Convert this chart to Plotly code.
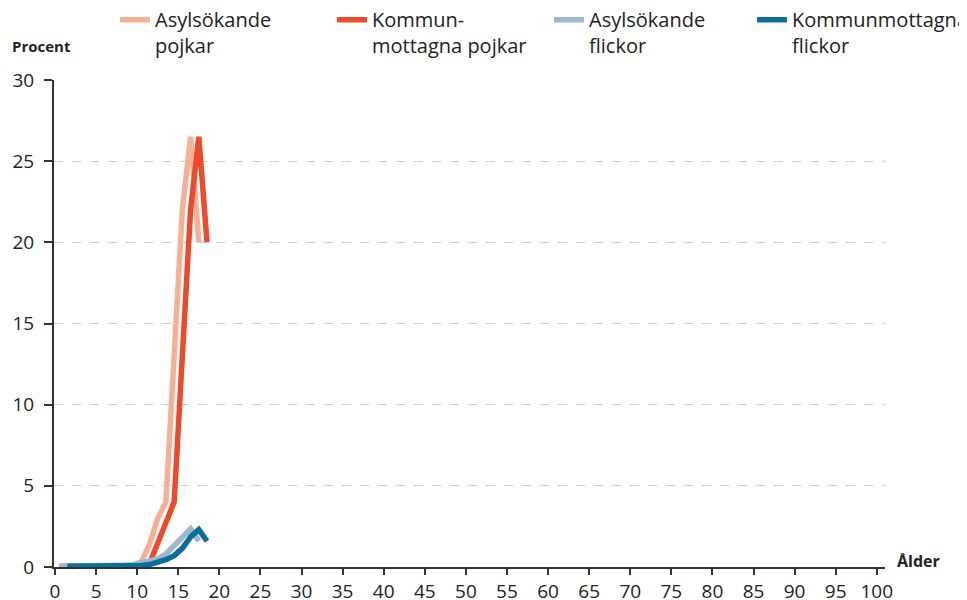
import plotly.graph_objects as go

# Ages (years); asylum seekers 0-17, municipality-received 1-18
ages_asyl = list(range(0, 18))
ages_komm = list(range(1, 19))

asyl_pojkar = [0.05, 0.05, 0.05, 0.05, 0.05, 0.05, 0.05, 0.05, 0.08, 0.12, 0.3, 1.4, 3.0, 4.0, 13.0, 22.0, 26.5, 20.0]
komm_pojkar = [0.02, 0.02, 0.02, 0.02, 0.02, 0.02, 0.02, 0.03, 0.05, 0.08, 0.2, 1.4, 2.8, 4.0, 13.0, 22.0, 26.5, 20.0]
asyl_flickor = [0.05, 0.05, 0.05, 0.05, 0.05, 0.05, 0.05, 0.05, 0.1, 0.15, 0.25, 0.35, 0.5, 0.8, 1.3, 1.9, 2.35, 1.6]
komm_flickor = [0.05, 0.05, 0.05, 0.05, 0.05, 0.05, 0.05, 0.05, 0.05, 0.1, 0.15, 0.3, 0.45, 0.7, 1.15, 1.85, 2.3, 1.6]

names = ["Asylsökande<br>pojkar", "Kommun-<br>mottagna pojkar", "Asylsökande<br>flickor", "Kommunmottagna<br>flickor"]
colors = ["#F5B095", "#EE4A2A", "#9FB6D5", "#0A7099"]
legend_ids = ["legend", "legend", "legend", "legend2"]

x_tick_vals = list(range(0, 101, 5))
y_tick_vals = list(range(0, 31, 5))

font_family = "Open Sans"

fig = go.Figure()
series = [
    (ages_asyl, asyl_pojkar),
    (ages_komm, komm_pojkar),
    (ages_asyl, asyl_flickor),
    (ages_komm, komm_flickor),
]
for (ages, vals), name, col, lg in zip(series, names, colors, legend_ids):
    fig.add_trace(go.Scatter(
        x=[a + 0.5 for a in ages], y=vals, mode="lines", name=name,
        line=dict(color=col, width=5.5), legend=lg,
        hoverinfo="skip",
    ))

legend_common = dict(
    orientation="h", xanchor="left", xref="container",
    y=1.164, yanchor="top", yref="paper",
    entrywidthmode="pixels",
    valign="top", font=dict(size=20, color="#222222"),
    itemwidth=30, tracegroupgap=0, bgcolor="rgba(0,0,0,0)",
)

fig.update_layout(
    width=959, height=592,
    margin=dict(l=46, r=82, t=72, b=33, autoexpand=False),
    paper_bgcolor="white", plot_bgcolor="white",
    font=dict(family=font_family, size=19, color="#222222"),
    showlegend=True,
    legend=dict(x=0.1116, entrywidth=172, **legend_common),
    legend2=dict(x=0.7758, entrywidth=175, **legend_common),
    xaxis=dict(
        range=[-0.12, 101.0], tickmode="array", tickvals=x_tick_vals,
        showgrid=False, zeroline=False,
        showline=True, linecolor="#333333", linewidth=2,
        ticks="outside", ticklen=6, tickwidth=1.5, tickcolor="#333333",
        tickfont=dict(size=19, color="#222222"),
    ),
    yaxis=dict(
        range=[0, 30], tickmode="array", tickvals=y_tick_vals,
        showgrid=True, gridcolor="#CCCCCC", griddash="dash", gridwidth=1,
        zeroline=False,
        showline=True, linecolor="#333333", linewidth=2,
        ticks="outside", ticklen=8, tickwidth=1.5, tickcolor="#333333",
        tickfont=dict(size=19, color="#222222"),
        ticklabelstandoff=6,
    ),
    annotations=[
        dict(text="<b>Procent</b>", xref="paper", yref="paper", x=-0.053, y=1.07,
             xanchor="left", yanchor="middle", showarrow=False,
             font=dict(size=15, color="#222222", family=font_family)),
        dict(text="<b>Ålder</b>", xref="paper", yref="paper", x=1.012, y=0.012,
             xanchor="left", yanchor="middle", showarrow=False,
             font=dict(size=16, color="#222222", family=font_family)),
    ],
)

fig.write_html("out.html")
